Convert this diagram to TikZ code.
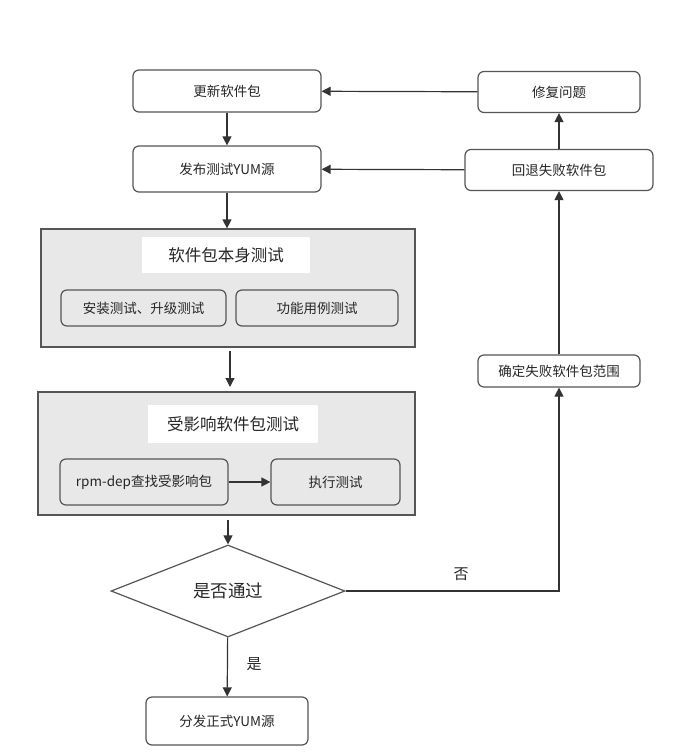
\documentclass[tikz,border=0pt]{standalone}
\usepackage{fontspec}
\setmainfont{Noto Sans CJK SC}
\usetikzlibrary{shapes.geometric,arrows.meta}
\definecolor{edge}{HTML}{555555}
\definecolor{grp}{HTML}{E8E8E8}
\begin{document}
\begin{tikzpicture}[x=1pt,y=-1pt,
  box/.style={draw=edge,line width=1.2pt,rounded corners=6pt,fill=white,inner sep=0pt,font=\fontsize{13.5}{16}\selectfont,text=black!85},
  ibox/.style={box,fill=grp},
  group/.style={draw=edge,line width=1.2pt,fill=grp,inner sep=0pt},
  title/.style={fill=white,inner sep=0pt,font=\fontsize{16.5}{20}\selectfont,text=black!85},
  arr/.style={draw=black!80,line width=1.2pt,-{Triangle[length=9pt,width=9pt]}},
  lbl/.style={font=\fontsize{15}{18}\selectfont,text=black!85}]
\useasboundingbox (0,0) rectangle (675,756);
% top boxes
\node[box,minimum width=188pt,minimum height=42pt] (upd) at (227,91) {更新软件包};
\node[box,minimum width=162pt,minimum height=41pt] (fix) at (559,92) {修复问题};
\node[box,minimum width=188pt,minimum height=46pt] (pub) at (227,169) {发布测试YUM源};
\node[box,minimum width=188pt,minimum height=41pt] (rb) at (559,170) {回退失败软件包};
% group 1
\node[group,minimum width=374pt,minimum height=118pt] (g1) at (228,288) {};
\node[title,minimum width=168pt,minimum height=36pt] (t1) at (226,255) {软件包本身测试};
\node[ibox,minimum width=165pt,minimum height=36pt] (inst) at (143.5,308) {安装测试、升级测试};
\node[ibox,minimum width=162pt,minimum height=36pt] (func) at (317,308) {功能用例测试};
% group 2
\node[group,minimum width=377pt,minimum height=123pt] (g2) at (226.5,453.5) {};
\node[title,minimum width=170pt,minimum height=38pt] (t2) at (233,424) {受影响软件包测试};
\node[ibox,minimum width=168pt,minimum height=46pt] (rpm) at (144,482) {rpm-dep查找受影响包};
\node[ibox,minimum width=129pt,minimum height=46pt] (exe) at (335.5,482) {执行测试};
% diamond
\node[draw=edge,line width=1.2pt,diamond,aspect=2.54,inner sep=0pt,minimum width=234pt,minimum height=92pt,font=\fontsize{17.5}{20}\selectfont,text=black!85] (dec) at (228,591) {是否通过};
% bottom
\node[box,minimum width=162pt,minimum height=48pt] (dist) at (227,721) {分发正式YUM源};
\node[box,minimum width=162pt,minimum height=32pt] (rng) at (559,371) {确定失败软件包范围};
\coordinate (corner) at (559,591);
% arrows
\draw[arr] (upd) -- (pub);
\draw[arr] (pub.south) -- (g1.north -| pub.south);
\draw[arr] (230,351) -- (230,387);
\draw[arr] (rpm) -- (exe);
\draw[arr] (228,520) -- (dec.north);
\draw[arr] (dec) -- (dist);
\draw[arr] (dec.east) -- (corner) -- (rng.south);
\draw[arr] (rng) -- (rb);
\draw[arr] (rb) -- (fix);
\draw[arr] (fix) -- (upd);
\draw[arr] (rb) -- (pub);
% labels
\node[lbl] (no) at (461,574) {否};
\node[lbl] (yes) at (254,664) {是};
\end{tikzpicture}
\end{document}
